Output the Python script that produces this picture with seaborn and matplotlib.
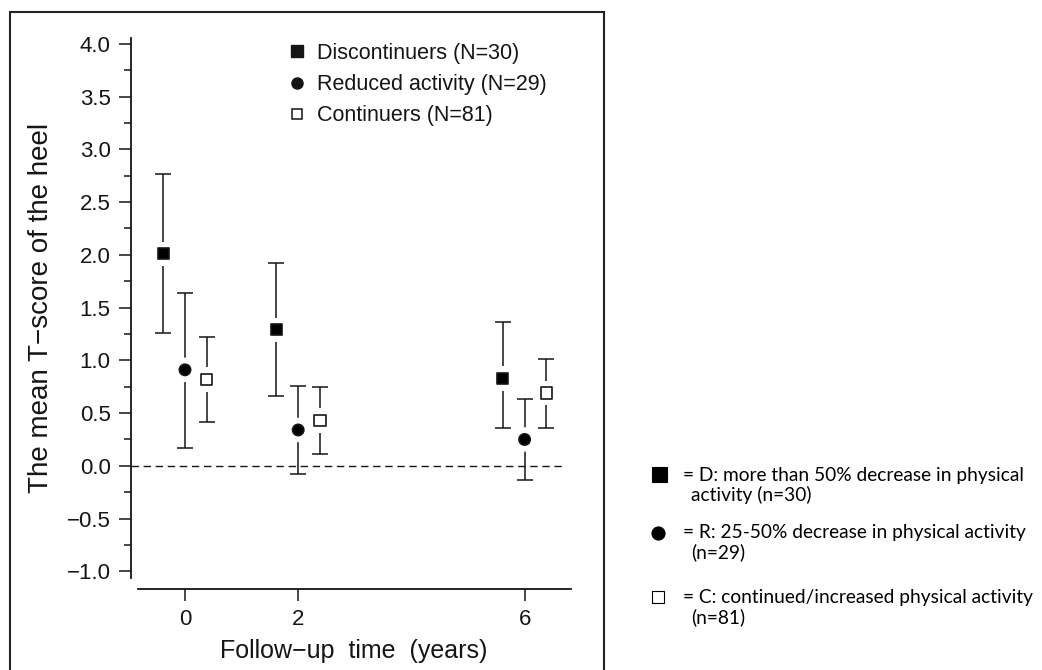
import matplotlib
matplotlib.use("Agg")
import numpy as np
import pandas as pd
import matplotlib.pyplot as plt
from matplotlib.lines import Line2D
from matplotlib.patches import Rectangle
from matplotlib.ticker import MultipleLocator, FuncFormatter
import seaborn as sns

# Follow-up times (years) and activity groups
years = [0, 2, 6]
groups = ["Discontinuers (N=30)", "Reduced activity (N=29)", "Continuers (N=81)"]

# Mean T-score of the heel with lower / upper error-bar limits
disc_mean = [2.01, 1.29, 0.83]
disc_low = [1.26, 0.66, 0.36]
disc_high = [2.77, 1.92, 1.36]

red_mean = [0.91, 0.34, 0.25]
red_low = [0.17, -0.08, -0.13]
red_high = [1.64, 0.76, 0.63]

cont_mean = [0.82, 0.43, 0.69]
cont_low = [0.42, 0.11, 0.36]
cont_high = [1.22, 0.75, 1.01]

y_ticks = [-1.0, -0.5, 0.0, 0.5, 1.0, 1.5, 2.0, 2.5, 3.0, 3.5, 4.0]

# Explanatory key shown beside the chart
note_first = [
    "= D: more than 50% decrease in physical",
    "= R: 25-50% decrease in physical activity",
    "= C: continued/increased physical activity",
]
note_second = ["activity (n=30)", "(n=29)", "(n=81)"]

# ---------------------------------------------------------------------------
means = [disc_mean, red_mean, cont_mean]
lows = [disc_low, red_low, cont_low]
highs = [disc_high, red_high, cont_high]
dodge = [-0.385, 0.0, 0.385]

records = []
for g, m, lo, hi, d in zip(groups, means, lows, highs, dodge):
    for t, mv, lv, hv in zip(years, m, lo, hi):
        records.append(dict(group=g, year=t, x=t + d, mean=mv, low=lv, high=hv))
df = pd.DataFrame(records)

marker_map = {groups[0]: "s", groups[1]: "o", groups[2]: "s"}
face_map = {groups[0]: "black", groups[1]: "black", groups[2]: "white"}

sns.set_style("ticks")
plt.rcParams["font.family"] = ["Liberation Sans", "DejaVu Sans"]
plt.rcParams["axes.unicode_minus"] = True

W, H = 1042, 670
fig = plt.figure(figsize=(W / 100, H / 100), dpi=100)


def fx(px):
    return px / W


def fy(py):
    return 1 - py / H


ax_left, ax_right, ax_top, ax_bottom = 138, 571, 37.6, 578
ax = fig.add_axes([fx(ax_left), fy(ax_bottom), fx(ax_right - ax_left),
                   (ax_bottom - ax_top) / H])

ink = "#151515"

# error bars
for g in groups:
    sub = df[df.group == g]
    ax.errorbar(sub.x, sub["mean"],
                yerr=[sub["mean"] - sub.low, sub.high - sub["mean"]],
                fmt="none", ecolor=ink, elinewidth=1.1, capsize=5.6,
                capthick=1.1, zorder=2)

# white halo around each marker
sns.scatterplot(data=df, x="x", y="mean", style="group", markers=marker_map,
                s=310, color="white", linewidth=0, legend=False, ax=ax,
                zorder=3)
# group markers
sns.scatterplot(data=df, x="x", y="mean", hue="group", palette=face_map,
                style="group", markers=marker_map, s=66, edgecolor=ink,
                linewidth=1.2, legend=False, ax=ax, zorder=4)

# dashed reference line at zero
ax.plot([-0.0173, 0.981], [0, 0], transform=ax.get_yaxis_transform(),
        color=ink, lw=1.0, ls=(0, (5.3, 3.4)), clip_on=False, zorder=1)

ax.set_xlim(-0.83, 6.82)
ax.set_ylim(-1.063, 4.059)
ax.set_xticks(years)
ax.set_yticks(y_ticks)
ax.yaxis.set_minor_locator(MultipleLocator(0.25))
ax.yaxis.set_major_formatter(
    FuncFormatter(lambda v, p: f"{v:.1f}".replace("-", "\u2212")))

for side in ["top", "right"]:
    ax.spines[side].set_visible(False)
ax.spines["left"].set_position(("outward", 5.4))
ax.spines["bottom"].set_position(("outward", 7.9))
for side in ["left", "bottom"]:
    ax.spines[side].set_linewidth(1.3)
    ax.spines[side].set_color(ink)

ax.tick_params(axis="y", which="major", length=8.3, width=1.1,
               labelsize=16, pad=6, colors=ink)
ax.tick_params(axis="y", which="minor", length=5, width=1.1, colors=ink)
ax.tick_params(axis="x", which="major", length=8.6, width=1.1,
               labelsize=16, pad=6, colors=ink)

ax.set_ylabel("The mean T\u2212score of the heel", fontsize=20, color=ink,
              va="center")
ax.yaxis.set_label_coords(fx(41.5), fy(308), transform=fig.transFigure)
ax.set_xlabel("Follow\u2212up  time  (years)", fontsize=18, color=ink,
              va="center")
ax.xaxis.set_label_coords(fx(353.5), fy(651), transform=fig.transFigure)

# in-plot legend
handles = [
    Line2D([], [], ls="none", marker="s", ms=8.6, mfc=ink, mec=ink),
    Line2D([], [], ls="none", marker="o", ms=8.0, mfc=ink, mec=ink),
    Line2D([], [], ls="none", marker="s", ms=7.6, mfc="white", mec=ink,
           mew=1.1),
]
ax.legend(handles, groups, loc="upper left",
          bbox_to_anchor=((286 - ax_left) / (ax_right - ax_left),
                          1 - (43 - ax_top) / (ax_bottom - ax_top)),
          frameon=False, fontsize=15.5, handlelength=1.0, handletextpad=0.43,
          labelspacing=0.47, borderpad=0, borderaxespad=0, labelcolor=ink)

# frame around the chart panel
fig.add_artist(Rectangle((fx(9.5), -0.1), fx(603.5) - fx(9.5), fy(11.5) + 0.1,
                         transform=fig.transFigure, fill=False, lw=1.5,
                         ec="#222222", clip_on=False))

# key beside the chart
sym_specs = [("s", 10.8, "black"), ("o", 9.4, "black"), ("s", 9.2, "white")]
sym_xy = [(659.3, 474.2), (657.5, 533.3), (658.3, 596.7)]
first_base = [481, 538, 603]
for (mk, ms, fc), (sx, sy), t1, t2, yb in zip(sym_specs, sym_xy, note_first,
                                                note_second, first_base):
    fig.add_artist(Line2D([fx(sx)], [fy(sy)], transform=fig.transFigure,
                          ls="none", marker=mk, ms=ms, mfc=fc, mec="black",
                          mew=0.8))
    fig.text(fx(683), fy(yb), t1, family=["Lato", "DejaVu Sans"],
             fontsize=13.8, va="baseline", ha="left", color="black")
    fig.text(fx(691), fy(yb + 20), t2, family=["Lato", "DejaVu Sans"],
             fontsize=13.8, va="baseline", ha="left", color="black")

fig.savefig("out.png", dpi=100)
